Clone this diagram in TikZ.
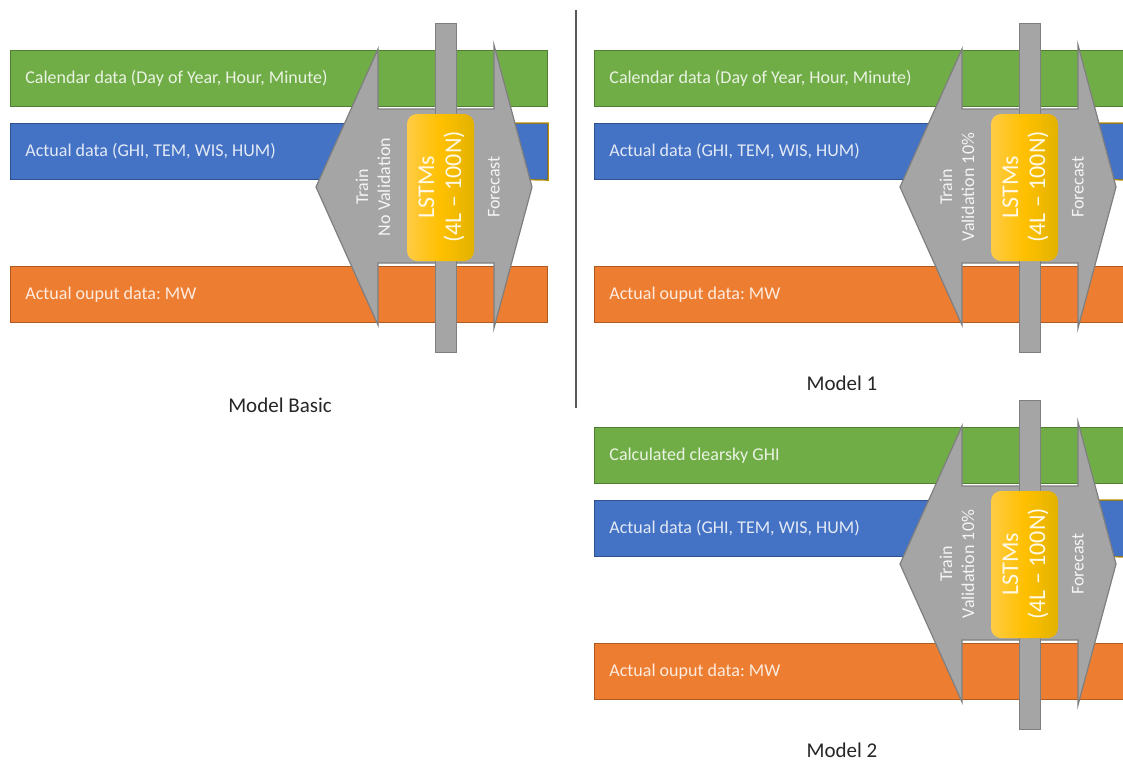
\documentclass[tikz,border=0pt]{standalone}
\usepackage{fontspec}
\setmainfont{Carlito}
\usepackage{tikz}
\usetikzlibrary{positioning,calc}
\frenchspacing

\definecolor{calgreen}{HTML}{70AD47}
\definecolor{calgreenline}{HTML}{507E32}
\definecolor{actblue}{HTML}{4472C4}
\definecolor{actblueline}{HTML}{2F528F}
\definecolor{outorange}{HTML}{ED7D31}
\definecolor{outorangeline}{HTML}{AE5A21}
\definecolor{arrgray}{HTML}{A5A5A5}
\definecolor{arrgrayline}{HTML}{7F7F7F}
\definecolor{goldline}{HTML}{BF9000}
\definecolor{lstmlight}{HTML}{FFCB45}
\definecolor{lstmmid}{HTML}{FFC000}
\definecolor{lstmdark}{HTML}{E2B200}

% one model panel: prefix, shift x, shift y, first input, validation text
\newcommand{\modelpanel}[5]{%
  \begin{scope}[shift={(#2,#3)}]
    \node[databar,fill=calgreen,draw=calgreenline] (#1cal) at (10,50) {};
    \node[databar,fill=actblue,draw=actblueline] (#1act) at (10,123) {};
    \node[databar,fill=outorange,draw=outorangeline] (#1out) at (10,266) {};
    \draw[goldline,line width=.6pt] (494,123) -| (#1act.south east) -- (494,179);
    \node[bartext,text=white!85!calgreen] (#1caltxt) at ([xshift=7.5pt]#1cal.west) {#4};
    \node[bartext,text=white!85!actblue] (#1acttxt) at ([xshift=7.5pt]#1act.west) {Actual data (GHI, TEM, WIS, HUM)};
    \node[bartext,text=white!85!outorange] (#1outtxt) at ([xshift=7.5pt]#1out.west) {Actual ouput data: MW};
    % train / forecast double arrow
    \draw[trainarrow] (378,109) -- (494,109) -- (494,45) -- (532,187) -- (494,328)
      -- (494,263) -- (378,263) -- (378,325) -- (316,187) -- (378,49) -- cycle;
    \node[splitbar] (#1split) at (435,23) {};
    \node[lstmbox] (#1lstm) at (440.5,187.5) {};
    \node[rottext,font=\fontsize{12}{13.5}\selectfont,text=white!90!lstmmid] (#1lstmtxt) at (441.5,187) {LSTMs\\(4L -- 100N)};
    \node[rottext] (#1train) at (373,187) {Train\\#5};
    \node[rottext] (#1fore) at (494,187) {Forecast};
  \end{scope}}

\begin{document}
\begin{tikzpicture}[x=0.5pt,y=-0.5pt,
  databar/.style={rectangle,anchor=north west,minimum width=268.5pt,minimum height=28pt,line width=.6pt,inner sep=0pt},
  bartext/.style={anchor=west,font=\fontsize{9}{11}\selectfont,inner sep=0pt},
  trainarrow/.style={fill=arrgray,draw=arrgrayline,line width=.6pt,line join=miter},
  splitbar/.style={rectangle,anchor=north west,fill=arrgray,draw=arrgrayline,line width=.6pt,minimum width=10.5pt,minimum height=164.5pt,inner sep=0pt},
  lstmbox/.style={rectangle,rounded corners=5pt,minimum width=33.5pt,minimum height=73.5pt,inner sep=0pt,left color=lstmlight,right color=lstmdark,middle color=lstmmid},
  rottext/.style={rotate=90,align=center,font=\fontsize{9}{11}\selectfont,text=white!88!arrgray,inner sep=0pt},
  caption/.style={font=\fontsize{10.5}{12.6}\selectfont,text=black!85}]
  \clip (0,0) rectangle (1123,760);
  \fill[white] (0,0) rectangle (1123,760);

  \modelpanel{mb}{0}{0}{Calendar data (Day of Year, Hour, Minute)}{No Validation}
  \modelpanel{mo}{584}{0}{Calendar data (Day of Year, Hour, Minute)}{Validation 10\%}
  \modelpanel{mt}{584}{377}{Calculated clearsky GHI}{Validation 10\%}

  % divider between the panels
  \coordinate (divtop) at (576,10);
  \coordinate (divbot) at (576,408);
  \draw[black!65,line width=.6pt] (divtop) -- (divbot);

  \node[caption] (basiccap) at (280,405) {Model Basic};
  \node[caption] (onecap) at (842,383) {Model 1};
  \node[caption] (twocap) at (842,750) {Model 2};
\end{tikzpicture}
\end{document}
